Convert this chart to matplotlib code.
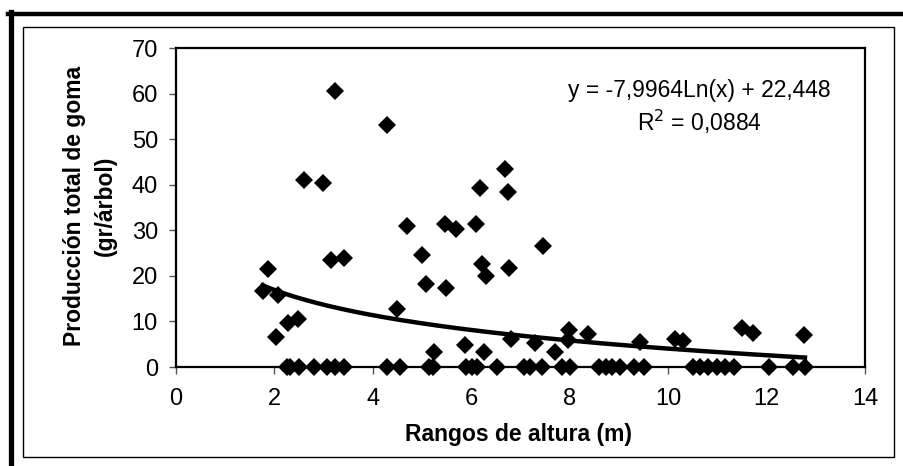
import numpy as np
import matplotlib.pyplot as plt
from matplotlib.lines import Line2D
from matplotlib.patches import Rectangle

plt.rcParams['font.family'] = ['Liberation Sans', 'DejaVu Sans']

# trees with some gum production (height m, gum gr/tree)
x_prod = [1.76, 1.87, 2.07, 2.04, 2.28, 2.48, 2.60, 2.99, 3.15, 3.23, 3.42,
          4.28, 4.49, 4.70, 5.00, 5.08, 5.24, 5.48, 5.47, 5.69, 5.88, 6.09,
          6.17, 6.21, 6.30, 6.26, 6.69, 6.74, 6.76, 6.81, 7.29, 7.45, 7.70,
          7.99, 7.97, 8.38, 9.43, 10.14, 10.30, 11.50, 11.73, 12.76]
y_prod = [16.6, 21.4, 15.8, 6.5, 9.7, 10.5, 41.0, 40.4, 23.5, 60.5, 23.9,
          53.1, 12.8, 30.9, 24.5, 18.3, 3.2, 17.4, 31.4, 30.3, 4.9, 31.4,
          39.3, 22.5, 19.9, 3.4, 43.5, 38.3, 21.8, 6.2, 5.3, 26.6, 3.2,
          8.1, 5.9, 7.3, 5.4, 6.1, 5.6, 8.5, 7.4, 7.1]

# trees with zero production
x_zero = [2.25, 2.32, 2.50, 2.80, 3.07, 3.24, 3.42, 4.29, 4.55, 5.15, 5.22,
          5.90, 6.01, 6.12, 6.52, 7.08, 7.20, 7.43, 7.84, 8.00, 8.60, 8.73,
          8.86, 9.02, 9.30, 9.50, 10.51, 10.65, 10.82, 10.99, 11.16, 11.33,
          12.05, 12.53, 12.78]
y_zero = [0] * len(x_zero)

# log trend coefficients as printed on the chart
a_coef = -7.9964
b_coef = 22.448
r2 = 0.0884

x_all = np.array(x_prod + x_zero)
y_all = np.array(y_prod + y_zero)

fig = plt.figure(figsize=(9.04, 4.66), dpi=100)
ax = fig.add_axes([176 / 904, 1 - 367 / 466, (865 - 176) / 904, (367 - 48) / 466])

ax.plot(x_all, y_all, 'D', color='black', ms=9, mec='black', mew=0,
        clip_on=False, zorder=3)

xt = np.linspace(x_all.min(), x_all.max(), 200)
ax.plot(xt, a_coef * np.log(xt) + b_coef, color='black', lw=3.2, zorder=4)

ax.set_xlim(0, 14)
ax.set_ylim(0, 70)
ax.set_xticks(range(0, 15, 2))
ax.set_yticks(range(0, 71, 10))
ax.tick_params(labelsize=17, length=5, width=1, color='#555555')
ax.tick_params(axis='y', pad=8)
ax.tick_params(axis='x', pad=10)
for s in ax.spines.values():
    s.set_linewidth(1.6)
    s.set_color('black')

ax.text(0.759, 0.868, 'y = -7,9964Ln(x) + 22,448', transform=ax.transAxes,
        ha='center', va='center', fontsize=16.5)
ax.text(0.759, 0.768, 'R$^2$ = 0,0884', transform=ax.transAxes,
        ha='center', va='center', fontsize=16.5)

fig.text(519 / 904, 1 - 434 / 466, 'Rangos de altura (m)', ha='center',
         va='center', fontsize=16.5, fontweight='bold')
fig.text(90 / 904, 1 - 206 / 466, 'Producción total de goma\n(gr/árbol)',
         ha='center', va='center', rotation=90, fontsize=16.5,
         fontweight='bold', linespacing=1.45, multialignment='center')

# frame around the chart
fig.add_artist(Rectangle((23 / 904, 1 - 457 / 466), (894 - 23) / 904,
                         (457 - 27) / 466, transform=fig.transFigure,
                         fill=False, lw=1, ec='black'))
fig.add_artist(Line2D([10.5 / 904, 10.5 / 904], [0, 1 - 12 / 466],
                      transform=fig.transFigure, color='black', lw=3.8))
fig.add_artist(Line2D([8 / 904, 1], [1 - 14 / 466, 1 - 14 / 466],
                      transform=fig.transFigure, color='black', lw=3.2))

fig.savefig('out.png', dpi=100)
